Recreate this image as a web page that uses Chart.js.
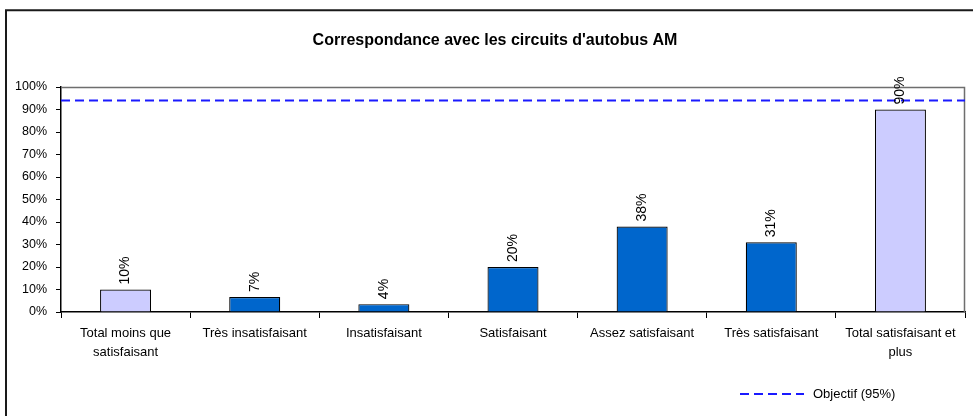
<!DOCTYPE html>
<html>
<head>
<meta charset="utf-8">
<script src="https://cdn.jsdelivr.net/npm/chart.js@4.4.1/dist/chart.umd.min.js"></script>
<style>
html,body{margin:0;padding:0;background:#fff;}
#wrap{width:973px;height:416px;position:relative;}
</style>
</head>
<body>
<div id="wrap"><canvas id="c" width="973" height="416"></canvas></div>
<script>
const chartTitle = "Correspondance avec les circuits d'autobus AM";
const categories = [
  ["Total moins que", "satisfaisant"],
  ["Très insatisfaisant"],
  ["Insatisfaisant"],
  ["Satisfaisant"],
  ["Assez satisfaisant"],
  ["Très satisfaisant"],
  ["Total satisfaisant et", "plus"]
];
const values = [10, 6.7, 3.5, 20, 38, 31, 90];
const barColors = ["#CCCCFF", "#0066CC", "#0066CC", "#0066CC", "#0066CC", "#0066CC", "#CCCCFF"];
const objectiveLabel = "Objectif (95%)";
const objectiveValue = 94;
const yTicks = [0, 10, 20, 30, 40, 50, 60, 70, 80, 90, 100];

const FONT = "'Liberation Sans', Arial, sans-serif";
Chart.defaults.font.family = FONT;
Chart.defaults.color = "#000";

const framePlugin = {
  id: 'frame',
  beforeDraw(chart) {
    const ctx = chart.ctx;
    ctx.save();
    ctx.fillStyle = '#fff';
    ctx.fillRect(0, 0, chart.width, chart.height);
    ctx.strokeStyle = '#1a1a1a';
    ctx.lineWidth = 2;
    ctx.beginPath();
    ctx.moveTo(6, chart.height);
    ctx.lineTo(6, 10.3);
    ctx.lineTo(chart.width, 10.3);
    ctx.stroke();
    ctx.font = "bold 16px " + FONT;
    ctx.fillStyle = '#000';
    ctx.textAlign = 'center';
    ctx.textBaseline = 'middle';
    ctx.fillText(chartTitle, 495, 41);
    ctx.restore();
  },
  beforeDatasetsDraw(chart) {
    const a = chart.chartArea;
    const ctx = chart.ctx;
    ctx.save();
    ctx.strokeStyle = '#6e6e6e';
    ctx.lineWidth = 1.5;
    ctx.beginPath();
    ctx.moveTo(a.left, a.top + 0.5);
    ctx.lineTo(a.right - 0.5, a.top + 0.5);
    ctx.lineTo(a.right - 0.5, a.bottom);
    ctx.stroke();
    ctx.restore();
  },
  afterDatasetsDraw(chart) {
    const ctx = chart.ctx;
    const meta = chart.getDatasetMeta(0);
    ctx.save();
    ctx.font = "14px " + FONT;
    ctx.fillStyle = '#000';
    ctx.textAlign = 'left';
    ctx.textBaseline = 'middle';
    meta.data.forEach((bar, i) => {
      ctx.save();
      ctx.translate(bar.x, bar.y - 5);
      ctx.rotate(-Math.PI / 2);
      ctx.fillText(Math.round(values[i]) + '%', 0, 0);
      ctx.restore();
    });
    const ds = chart.data.datasets[1];
    ctx.font = "13px " + FONT;
    ctx.strokeStyle = ds.borderColor;
    ctx.lineWidth = ds.borderWidth;
    ctx.setLineDash(ds.borderDash);
    ctx.beginPath();
    ctx.moveTo(740, 394);
    ctx.lineTo(804, 394);
    ctx.stroke();
    ctx.setLineDash([]);
    ctx.fillText(ds.label, 813, 394);
    ctx.restore();
  }
};

new Chart(document.getElementById('c'), {
  data: {
    labels: categories,
    datasets: [
      {
        type: 'bar',
        label: 'Valeurs',
        data: values,
        backgroundColor: barColors,
        borderColor: '#000',
        borderWidth: 1.2,
        barPercentage: 0.395,
        categoryPercentage: 1,
        grouped: false,
        order: 2
      },
      {
        type: 'line',
        label: objectiveLabel,
        data: [{x: 0, y: objectiveValue}, {x: 1, y: objectiveValue}],
        xAxisID: 'x2',
        borderColor: '#1a1aff',
        borderWidth: 2,
        borderDash: [9, 5],
        pointRadius: 0,
        fill: false,
        order: 1
      }
    ]
  },
  options: {
    responsive: false,
    animation: false,
    events: [],
    layout: { padding: { left: 0, right: 8, top: 87, bottom: 0 } },
    plugins: { legend: { display: false }, title: { display: false }, tooltip: { enabled: false } },
    scales: {
      x: {
        type: 'category',
        offset: true,
        grid: { display: true, drawOnChartArea: false, offset: true, tickLength: 6, color: '#000', lineWidth: 1 },
        border: { display: true, color: '#000', width: 1.5 },
        ticks: { font: { size: 13, lineHeight: 1.45 }, color: '#000', maxRotation: 0, autoSkip: false, padding: 6 },
        afterFit(s) { s.height = 104; }
      },
      x2: {
        type: 'linear',
        min: 0, max: 1,
        display: false
      },
      y: {
        min: 0, max: 100,
        afterBuildTicks(s) { s.ticks = yTicks.map(v => ({ value: v })); },
        grid: { display: true, drawOnChartArea: false, tickLength: 5, color: '#000', lineWidth: 1 },
        border: { display: true, color: '#000', width: 1.5 },
        ticks: { font: { size: 12.5 }, color: '#000', padding: 9, callback: v => v + '%' },
        afterFit(s) { s.width = 61; }
      }
    }
  },
  plugins: [framePlugin]
});
</script>
</body>
</html>
